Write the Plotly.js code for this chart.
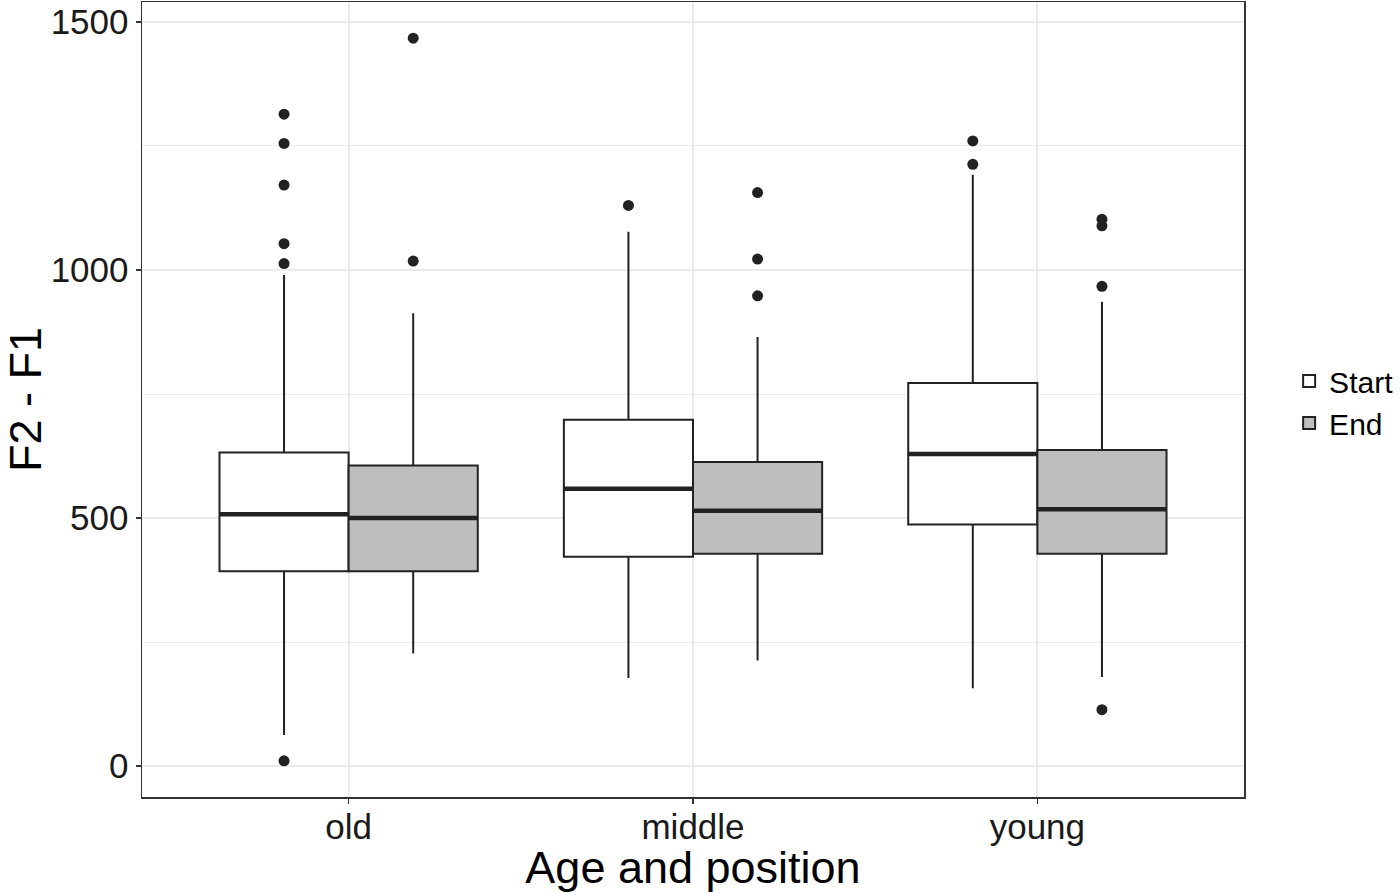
<!DOCTYPE html>
<html><head><meta charset="utf-8">
<script src="https://cdn.plot.ly/plotly-3.0.1.min.js"></script>
<style>html,body{margin:0;padding:0;background:#fff}</style>
</head><body><div id="chart" style="width:1400px;height:893px"></div>
<script>
// ---- data ----
const categories = ['old', 'middle', 'young'];
const seriesNames = ['Start', 'End'];

const startQ1 = [393, 422, 487];
const startMedian = [508, 559, 629];
const startQ3 = [632, 698, 772];
const startLowerWhisker = [63, 178, 157];
const startUpperWhisker = [990, 1077, 1192];
const startOutliers = [[1314, 1255, 1171, 1053, 1013, 11], [1130], [1260, 1213]];

const endQ1 = [393, 428, 428];
const endMedian = [500, 515, 518];
const endQ3 = [606, 613, 637];
const endLowerWhisker = [227, 213, 180];
const endUpperWhisker = [913, 865, 936];
const endOutliers = [[1467, 1018], [1156, 1022, 948], [1102, 1089, 967, 114]];

const yTickVals = [0, 500, 1000, 1500];
const yMinorVals = [250, 750, 1250];

// ---- styling ----
const dodge = 0.75, boxW = dodge / 2;
const ink = '#222222';
const fills = ['#FFFFFF', '#BEBEBE'];
const FONT = '"Liberation Sans", Arial, Helvetica, sans-serif';

const stats = [
  {q1: startQ1, med: startMedian, q3: startQ3, lo: startLowerWhisker, hi: startUpperWhisker, out: startOutliers},
  {q1: endQ1, med: endMedian, q3: endQ3, lo: endLowerWhisker, hi: endUpperWhisker, out: endOutliers}
];

const traces = [];
const medX = [], medY = [], outX = [], outY = [];
stats.forEach((s, si) => {
  const off = (si - 0.5) * boxW;
  const xs = categories.map((c, i) => i + 1 + off);
  traces.push({
    type: 'box', name: seriesNames[si], x: xs,
    q1: s.q1, median: s.med, q3: s.q3, lowerfence: s.lo, upperfence: s.hi,
    width: boxW, whiskerwidth: 0, boxpoints: false,
    fillcolor: fills[si], line: {color: ink, width: 2},
    hoverinfo: 'skip'
  });
  xs.forEach((x, i) => {
    medX.push(x - boxW / 2, x + boxW / 2, null);
    medY.push(s.med[i], s.med[i], null);
    s.out[i].forEach(v => { outX.push(x); outY.push(v); });
  });
});
traces.push({type: 'scatter', mode: 'lines', x: medX, y: medY, line: {color: ink, width: 4.5},
  showlegend: false, hoverinfo: 'skip'});
traces.push({type: 'scatter', mode: 'markers', x: outX, y: outY,
  marker: {color: ink, size: 11, line: {width: 0}}, showlegend: false, hoverinfo: 'skip'});

const axisCommon = {
  showline: true, linecolor: '#333333', linewidth: 1.5, mirror: true,
  ticks: 'outside', ticklen: 5, tickwidth: 1.5, tickcolor: '#333333',
  gridcolor: '#EBEBEB', gridwidth: 2, zeroline: false,
  tickfont: {family: FONT, size: 35, color: '#1a1a1a'}
};

const layout = {
  width: 1400, height: 893,
  margin: {l: 142, r: 155, t: 2, b: 96},
  paper_bgcolor: '#fff', plot_bgcolor: '#fff',
  font: {family: FONT, color: '#000'},
  boxmode: 'overlay',
  showlegend: true,
  legend: {x: 1.04, y: 0.497, xanchor: 'left', yanchor: 'middle',
    font: {family: FONT, size: 30, color: '#000'}, tracegroupgap: 0, bgcolor: 'rgba(0,0,0,0)'},
  xaxis: Object.assign({}, axisCommon, {
    range: [0.4, 3.6], tickmode: 'array', tickvals: categories.map((c, i) => i + 1), ticktext: categories,
    ticklabelstandoff: -7,
    title: {text: 'Age and position', font: {family: FONT, size: 45, color: '#000'}, standoff: 12}
  }),
  yaxis: Object.assign({}, axisCommon, {
    range: [-62, 1540], tickmode: 'array', tickvals: yTickVals,
    minor: {tickmode: 'array', tickvals: yMinorVals, showgrid: true, gridcolor: '#EBEBEB', gridwidth: 1, ticks: ''},
    title: {text: 'F2 - F1', font: {family: FONT, size: 45, color: '#000'}, standoff: 22}
  })
};

Plotly.newPlot('chart', traces, layout, {staticPlot: true, displayModeBar: false});
</script>
</body></html>
